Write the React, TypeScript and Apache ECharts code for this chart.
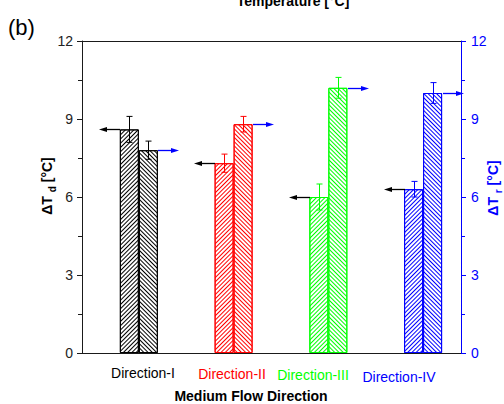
import React, { useEffect, useRef } from 'react';
import * as echarts from 'echarts';

// Flow directions and their positions on the x scale
const categories = ['Direction-I', 'Direction-II', 'Direction-III', 'Direction-IV'];
const positions = [1, 2, 3, 4];

// ΔT_d (left axis) and ΔT_r (right axis) with their error margins, °C
const deltaTd = [8.6, 7.3, 6.0, 6.3];
const deltaTdErr = [0.5, 0.35, 0.5, 0.3];
const deltaTr = [7.8, 8.8, 10.2, 10.0];
const deltaTrErr = [0.35, 0.3, 0.4, 0.4];

// Shared scale of both y axes
const yMin = 0;
const yMax = 12;
const yStep = 3;

const directionColors = ['#000000', '#ff0000', '#00ff00', '#0000ff'];

const FONT = '"Liberation Sans", Arial, Helvetica, sans-serif';
const AXIS_BLACK = '#1a1a1a';
const AXIS_BLUE = '#0000ff';
const BAR_W = 19;

const hatch = (color: string, rotation: number) => ({
  symbol: 'rect',
  symbolSize: 1,
  color,
  backgroundColor: '#ffffff',
  dashArrayX: [1, 0],
  dashArrayY: [1, 1.5],
  rotation,
});

function barSeries(values: number[], axis: number, rotation: number) {
  return {
    type: 'bar',
    yAxisIndex: axis,
    barWidth: BAR_W,
    barGap: '0%',
    silent: true,
    data: values.map((v, i) => ({
      value: [positions[i], v],
      itemStyle: {
        color: '#ffffff',
        borderColor: directionColors[i],
        borderWidth: 1,
        decal: hatch(directionColors[i], rotation),
      },
    })),
  };
}

// Error bars plus the arrow pointing to the axis each bar belongs to
function overlaySeries(values: number[], errs: number[], side: 'left' | 'right') {
  const axis = side === 'left' ? 0 : 1;
  const arrowColor = side === 'left' ? '#000000' : '#0000ff';
  return {
    type: 'custom',
    yAxisIndex: axis,
    z: 10,
    silent: true,
    data: values.map((v, i) => [positions[i], v, errs[i]]),
    renderItem: (params: any, api: any) => {
      const i = params.dataIndex;
      const x = api.value(0);
      const v = api.value(1);
      const e = api.value(2);
      const base = api.coord([x, v]);
      const top = api.coord([x, v + e]);
      const bot = api.coord([x, v - e]);
      const half = BAR_W / 2;
      const cx = Math.round(base[0] + (side === 'left' ? -half : half)) + 0.5;
      const col = directionColors[i];
      const cap = 3;
      const y0 = Math.round(base[1]) + 0.5;
      const edge = side === 'left' ? cx - half : cx + half;
      const tip = side === 'left' ? edge - 21 : edge + 21;
      const dir = side === 'left' ? 1 : -1;
      const headLen = 8;
      const headHalf = 2.6;
      return {
        type: 'group',
        children: [
          { type: 'line', shape: { x1: cx, y1: top[1], x2: cx, y2: bot[1] }, style: { stroke: col, lineWidth: 1 } },
          { type: 'line', shape: { x1: cx - cap, y1: top[1], x2: cx + cap, y2: top[1] }, style: { stroke: col, lineWidth: 1 } },
          { type: 'line', shape: { x1: cx - cap, y1: bot[1], x2: cx + cap, y2: bot[1] }, style: { stroke: col, lineWidth: 1 } },
          { type: 'line', shape: { x1: edge, y1: y0, x2: tip + dir * headLen * 0.6, y2: y0 }, style: { stroke: arrowColor, lineWidth: 1.3 } },
          {
            type: 'polygon',
            shape: { points: [[tip, y0], [tip + dir * headLen, y0 - headHalf], [tip + dir * headLen, y0 + headHalf]] },
            style: { fill: arrowColor },
          },
        ],
      };
    },
  };
}

function yAxis(color: string, position: 'left' | 'right', labelColor: string, margin: number) {
  return {
    type: 'value',
    position,
    min: yMin,
    max: yMax,
    interval: yStep,
    axisLine: { show: true, lineStyle: { color, width: 1 } },
    axisTick: { show: true, inside: false, length: 5, lineStyle: { color, width: 1 } },
    minorTick: { show: true, splitNumber: 2, length: 4, lineStyle: { color, width: 1 } },
    axisLabel: { color: labelColor, fontSize: 14, fontFamily: FONT, margin },
    splitLine: { show: false },
    minorSplitLine: { show: false },
  };
}

const titleRich = (color: string) => ({
  b: { fontSize: 14, fontWeight: 'bold', fontFamily: FONT, fill: color, color, lineHeight: 20, verticalAlign: 'middle' },
  s: { fontSize: 10, fontWeight: 'bold', fontFamily: FONT, fill: color, color, lineHeight: 20, verticalAlign: 'bottom' },
});

export default function App() {
  const ref = useRef<HTMLDivElement>(null);

  useEffect(() => {
    if (!ref.current) return;
    const chart = echarts.init(ref.current, undefined, { renderer: 'svg' });

    const labelAnchors = [
      [143, 373],
      [232, 374],
      [313, 375],
      [399, 377],
    ];

    chart.setOption({
      animation: false,
      backgroundColor: '#ffffff',
      grid: { left: 82, right: 43, top: 41, bottom: 51, outerBoundsMode: 'none' },
      xAxis: [
        {
          type: 'value',
          position: 'bottom',
          min: 0.4,
          max: 4.4,
          axisLine: { show: true, onZero: false, lineStyle: { color: AXIS_BLACK, width: 1 } },
          axisTick: { show: false },
          axisLabel: { show: false },
          splitLine: { show: false },
        },
        {
          type: 'value',
          position: 'top',
          min: 0.4,
          max: 4.4,
          axisLine: { show: true, onZero: false, lineStyle: { color: AXIS_BLACK, width: 1 } },
          axisTick: { show: false },
          axisLabel: { show: false },
          splitLine: { show: false },
        },
      ],
      yAxis: [
        yAxis(AXIS_BLACK, 'left', '#222222', 9),
        yAxis(AXIS_BLUE, 'right', AXIS_BLUE, 10),
      ],
      series: [
        barSeries(deltaTd, 0, -Math.PI / 4),
        barSeries(deltaTr, 1, Math.PI / 4),
        overlaySeries(deltaTd, deltaTdErr, 'left'),
        overlaySeries(deltaTr, deltaTrErr, 'right'),
      ],
      graphic: [
        {
          type: 'text',
          x: 293,
          y: 8,
          style: {
            text: 'Temperature [°C]',
            font: `bold 14px ${FONT}`,
            fill: '#000000',
            textAlign: 'center',
            textVerticalAlign: 'bottom',
          },
        },
        {
          type: 'text',
          x: 8,
          y: 27,
          style: {
            text: '(b)',
            font: `22px ${FONT}`,
            fill: '#000000',
            textAlign: 'left',
            textVerticalAlign: 'middle',
          },
        },
        ...categories.map((c, i) => ({
          type: 'text',
          x: labelAnchors[i][0],
          y: labelAnchors[i][1],
          style: {
            text: c,
            font: `14px ${FONT}`,
            fill: directionColors[i],
            textAlign: 'center',
            textVerticalAlign: 'middle',
          },
        })),
        {
          type: 'text',
          x: 251,
          y: 396,
          style: {
            text: 'Medium Flow Direction',
            font: `bold 14px ${FONT}`,
            fill: '#000000',
            textAlign: 'center',
            textVerticalAlign: 'middle',
          },
        },
        {
          type: 'text',
          x: 47,
          y: 186,
          rotation: Math.PI / 2,
          style: {
            text: '{b|ΔT }{s|d}{b| [°C]}',
            rich: titleRich('#000000'),
            textAlign: 'center',
            textVerticalAlign: 'middle',
          },
        },
        {
          type: 'text',
          x: 493,
          y: 188,
          rotation: Math.PI / 2,
          style: {
            text: '{b|ΔT }{s|r}{b| [°C]}',
            rich: titleRich(AXIS_BLUE),
            textAlign: 'center',
            textVerticalAlign: 'middle',
          },
        },
      ],
    });

    return () => chart.dispose();
  }, []);

  return (
    <div
      ref={ref}
      style={{ position: 'fixed', left: 0, top: 0, width: 504, height: 404, background: '#ffffff' }}
    />
  );
}
